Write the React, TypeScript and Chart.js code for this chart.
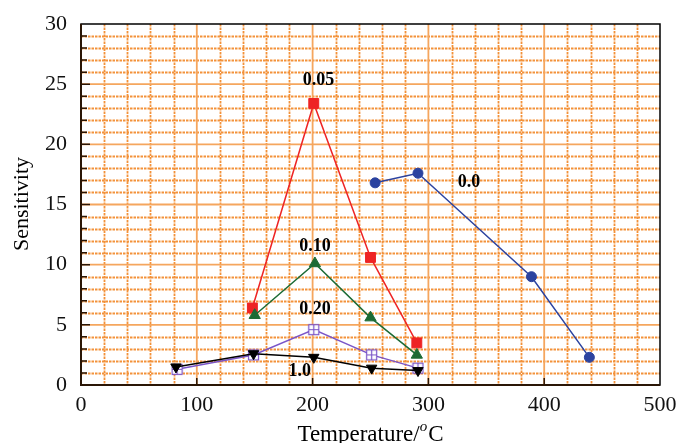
import React, { useEffect, useRef } from "react";
import { Chart, registerables } from "chart.js";

Chart.register(...registerables);

// ---- data ----
const temps00 = [254, 291, 389, 439];
const sens00 = [16.8, 17.6, 9.0, 2.3];
const temps005 = [148, 201, 250, 290];
const sens005 = [6.4, 23.4, 10.6, 3.5];
const temps010 = [150, 202, 250, 290];
const sens010 = [5.8, 10.1, 5.6, 2.5];
const temps020 = [83, 149, 201, 251, 291];
const sens020 = [1.3, 2.5, 4.6, 2.5, 1.4];
const temps10 = [82, 149, 201, 251, 291];
const sens10 = [1.5, 2.6, 2.3, 1.4, 1.2];

const xTickValues = [0, 100, 200, 300, 400, 500];
const yTickValues = [0, 5, 10, 15, 20, 25, 30];

const seriesNames = ["0.0", "0.05", "0.10", "0.20", "1.0"];
const nameAtX = [335, 205, 202, 202, 189];
const nameAtY = [16.8, 25.3, 11.5, 6.3, 1.1];

const SERIF = "'Liberation Serif', 'DejaVu Serif', serif";

function pts(xs: number[], ys: number[]) {
  return xs.map((x, i) => ({ x, y: ys[i] }));
}

function makeBoxPlus(): HTMLCanvasElement {
  const c = document.createElement("canvas");
  c.width = 13;
  c.height = 13;
  const g = c.getContext("2d")!;
  g.strokeStyle = "#7a55c8";
  g.lineWidth = 1.2;
  g.fillStyle = "#ffffff";
  g.fillRect(1.5, 1.5, 10, 10);
  g.strokeRect(1.5, 1.5, 10, 10);
  g.beginPath();
  g.moveTo(6.5, 1.5);
  g.lineTo(6.5, 11.5);
  g.moveTo(1.5, 6.5);
  g.lineTo(11.5, 6.5);
  g.stroke();
  return c;
}

const decorPlugin = {
  id: "decor",
  beforeDatasetsDraw(chart: any) {
    const { ctx, chartArea: a, scales } = chart;
    const xs = scales.x;
    const ys = scales.y;
    ctx.save();
    // minor dotted grid
    ctx.strokeStyle = "#f3923a";
    ctx.lineWidth = 1.8;
    ctx.setLineDash([2.5, 1]);
    ctx.beginPath();
    for (let v = 20; v < 500; v += 20) {
      if (v % 100 === 0) continue;
      const px = Math.round(xs.getPixelForValue(v)) + 0.5;
      ctx.moveTo(px, a.top);
      ctx.lineTo(px, a.bottom);
    }
    for (let v = 1; v < 30; v += 1) {
      if (v % 5 === 0) continue;
      const py = Math.round(ys.getPixelForValue(v)) + 0.5;
      ctx.moveTo(a.left, py);
      ctx.lineTo(a.right, py);
    }
    ctx.stroke();
    // major solid grid
    ctx.setLineDash([]);
    ctx.strokeStyle = "#f5a65e";
    ctx.lineWidth = 1.8;
    ctx.beginPath();
    for (const v of xTickValues) {
      if (v === 0 || v === 500) continue;
      const px = xs.getPixelForValue(v);
      ctx.moveTo(px, a.top);
      ctx.lineTo(px, a.bottom);
    }
    for (const v of yTickValues) {
      if (v === 0 || v === 30) continue;
      const py = ys.getPixelForValue(v);
      ctx.moveTo(a.left, py);
      ctx.lineTo(a.right, py);
    }
    ctx.stroke();
    // frame
    ctx.strokeStyle = "#000000";
    ctx.lineWidth = 1.5;
    ctx.strokeRect(a.left, a.top, a.right - a.left, a.bottom - a.top);
    ctx.strokeStyle = "#2a1606";
    ctx.lineWidth = 2;
    ctx.beginPath();
    ctx.moveTo(a.left, a.top);
    ctx.lineTo(a.left, a.bottom);
    ctx.lineTo(a.right, a.bottom);
    ctx.stroke();
    // inward ticks
    ctx.lineWidth = 1.5;
    ctx.beginPath();
    for (let v = 1; v < 30; v += 1) {
      const py = ys.getPixelForValue(v);
      ctx.moveTo(a.left, py);
      ctx.lineTo(a.left + (v % 5 === 0 ? 9 : 6), py);
    }
    for (const v of xTickValues) {
      if (v === 0 || v === 500) continue;
      const px = xs.getPixelForValue(v);
      ctx.moveTo(px, a.bottom);
      ctx.lineTo(px, a.bottom - 7);
    }
    ctx.stroke();
    ctx.restore();
  },
  afterDatasetsDraw(chart: any) {
    const { ctx, scales } = chart;
    ctx.save();
    ctx.fillStyle = "#000000";
    ctx.font = `bold 18px ${SERIF}`;
    ctx.textAlign = "center";
    ctx.textBaseline = "middle";
    seriesNames.forEach((t, i) => {
      ctx.fillText(t, scales.x.getPixelForValue(nameAtX[i]), scales.y.getPixelForValue(nameAtY[i]));
    });
    ctx.restore();
  },
  afterDraw(chart: any) {
    const { ctx, chartArea: a } = chart;
    ctx.save();
    ctx.fillStyle = "#000000";
    // x title with superscript
    ctx.font = `23px ${SERIF}`;
    ctx.textBaseline = "alphabetic";
    const p1 = "Temperature/";
    const p2 = "o";
    const p3 = "C";
    const w1 = ctx.measureText(p1).width;
    const w3 = ctx.measureText(p3).width;
    ctx.font = `italic 15px ${SERIF}`;
    const w2 = ctx.measureText(p2).width + 1;
    const total = w1 + w2 + w3;
    const cx = (a.left + a.right) / 2;
    const x0 = cx - total / 2;
    const base = 441;
    ctx.font = `23px ${SERIF}`;
    ctx.textAlign = "left";
    ctx.fillText(p1, x0, base);
    ctx.font = `italic 15px ${SERIF}`;
    ctx.fillText(p2, x0 + w1, base - 10);
    ctx.font = `23px ${SERIF}`;
    ctx.fillText(p3, x0 + w1 + w2, base);
    // y title
    ctx.translate(22, 204);
    ctx.rotate(-Math.PI / 2);
    ctx.textAlign = "center";
    ctx.textBaseline = "middle";
    ctx.font = `22px ${SERIF}`;
    ctx.fillText("Sensitivity", 0, 0);
    ctx.restore();
  },
};

export default function App() {
  const ref = useRef<HTMLCanvasElement | null>(null);
  useEffect(() => {
    if (!ref.current) return;
    const boxPlus = makeBoxPlus();
    const common = { showLine: true, borderWidth: 1.5, pointBorderWidth: 1 };
    const chart = new Chart(ref.current, {
      type: "scatter",
      data: {
        datasets: [
          {
            ...common,
            data: pts(temps10, sens10),
            borderColor: "#000000",
            backgroundColor: "#000000",
            pointStyle: "triangle",
            rotation: 180,
            pointRadius: 6,
          },
          {
            ...common,
            data: pts(temps020, sens020),
            borderColor: "#7a55c8",
            backgroundColor: "#7a55c8",
            pointStyle: boxPlus,
            pointRadius: 6,
          },
          {
            ...common,
            data: pts(temps010, sens010),
            borderColor: "#1b6b35",
            backgroundColor: "#1b6b35",
            pointStyle: "triangle",
            pointRadius: 6.5,
          },
          {
            ...common,
            data: pts(temps005, sens005),
            borderColor: "#ee2424",
            backgroundColor: "#ee2424",
            pointStyle: "rect",
            pointRadius: 7,
          },
          {
            ...common,
            data: pts(temps00, sens00),
            borderColor: "#2b43a0",
            backgroundColor: "#2b43a0",
            pointStyle: "circle",
            pointRadius: 5,
          },
        ],
      },
      options: {
        animation: false,
        responsive: true,
        maintainAspectRatio: false,
        layout: { padding: { top: 24, right: 18, left: 0, bottom: 0 } },
        plugins: { legend: { display: false }, tooltip: { enabled: false } },
        scales: {
          x: {
            type: "linear",
            min: 0,
            max: 500,
            afterBuildTicks: (s: any) => {
              s.ticks = xTickValues.map((v) => ({ value: v }));
            },
            ticks: { font: { family: SERIF, size: 22 }, color: "#111111", padding: 7 },
            grid: { display: false, drawTicks: false },
            border: { display: false },
            afterFit: (s: any) => {
              s.height = 58;
              s.paddingLeft = 0;
              s.paddingRight = 0;
            },
          },
          y: {
            type: "linear",
            min: 0,
            max: 30,
            afterBuildTicks: (s: any) => {
              s.ticks = yTickValues.map((v) => ({ value: v }));
            },
            ticks: { font: { family: SERIF, size: 22 }, color: "#111111", padding: 14 },
            grid: { display: false, drawTicks: false },
            border: { display: false },
            afterFit: (s: any) => {
              s.width = 81;
              s.paddingTop = 0;
              s.paddingBottom = 0;
            },
          },
        },
      },
      plugins: [decorPlugin],
    });
    return () => chart.destroy();
  }, []);
  return (
    <div style={{ position: "fixed", left: 0, top: 0, width: 678, height: 443, background: "#fff" }}>
      <canvas ref={ref} />
    </div>
  );
}
